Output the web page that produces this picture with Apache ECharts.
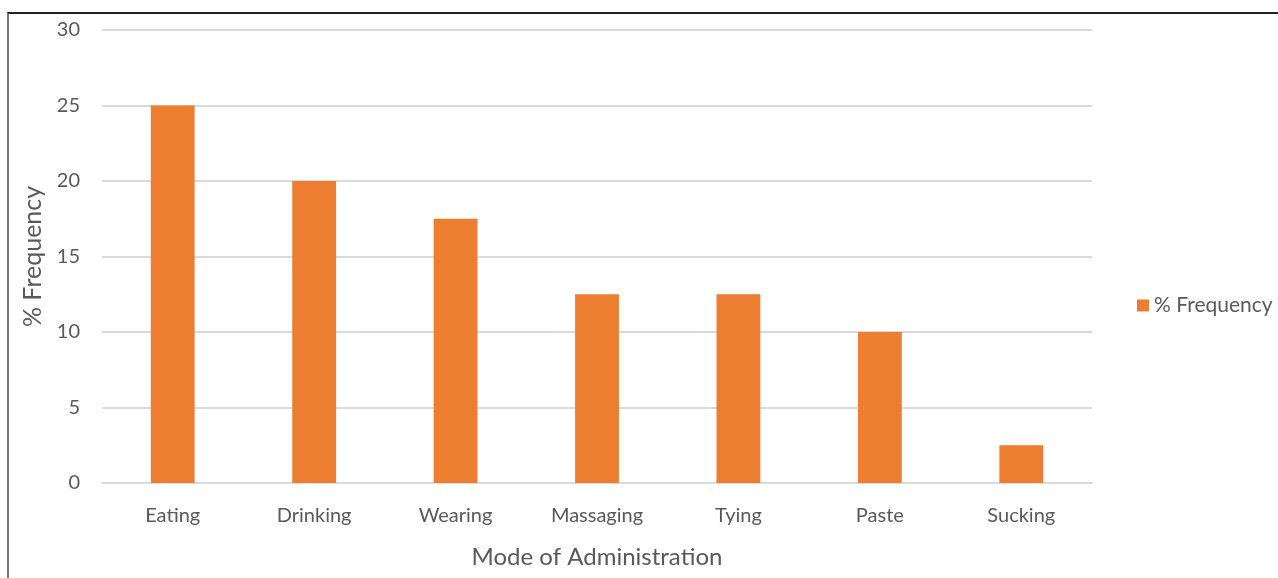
<!DOCTYPE html>
<html>
<head>
<meta charset="utf-8">
<style>
  html, body { margin: 0; padding: 0; background: #fff; }
  #frame { position: absolute; left: 7px; top: 12px; width: 1271px; height: 566px;
           border-top: 2px solid #222; border-left: 2px solid #777; box-sizing: border-box; }
  #chart { position: absolute; left: 0; top: 0; width: 1278px; height: 578px; }
</style>
<script src="https://cdn.jsdelivr.net/npm/echarts@6/dist/echarts.min.js"></script>
</head>
<body>
<div id="frame"></div>
<div id="chart"></div>
<script>
// Reported modes of administration and their share of mentions
const categories = ['Eating', 'Drinking', 'Wearing', 'Massaging', 'Tying', 'Paste', 'Sucking'];
const frequency = [25, 20, 17.5, 12.5, 12.5, 10, 2.5];
const seriesName = '% Frequency';
const xTitle = 'Mode of Administration';
const yTitle = '% Frequency';

const font = 'Lato, Open Sans, sans-serif';
const chart = echarts.init(document.getElementById('chart'), null, { renderer: 'canvas' });
chart.setOption({
  animation: false,
  backgroundColor: 'transparent',
  textStyle: { fontFamily: font },
  grid: { left: 102, right: 186, top: 30, bottom: 95, containLabel: false },
  legend: {
    data: [seriesName],
    orient: 'vertical',
    left: 1132, top: 290,
    itemWidth: 12, itemHeight: 12, itemGap: 4,
    icon: 'rect',
    textStyle: { color: '#595959', fontSize: 21, fontFamily: font }
  },
  xAxis: {
    type: 'category',
    data: categories,
    name: xTitle,
    nameLocation: 'middle',
    nameGap: 62,
    nameTextStyle: { color: '#595959', fontSize: 24, fontFamily: font },
    axisLine: { show: true, lineStyle: { color: '#d9d9d9', width: 2 } },
    axisTick: { show: false },
    axisLabel: { color: '#595959', fontSize: 20, margin: 23, fontFamily: font }
  },
  yAxis: {
    type: 'value',
    min: 0, max: 30, interval: 5,
    name: yTitle,
    nameLocation: 'middle',
    nameGap: 55,
    nameRotate: 90,
    nameTextStyle: { color: '#595959', fontSize: 25, fontFamily: font },
    axisLine: { show: false },
    axisTick: { show: false },
    axisLabel: { color: '#595959', fontSize: 20, margin: 22, fontFamily: font },
    splitLine: { lineStyle: { color: '#d9d9d9', width: 2 } }
  },
  series: [{
    name: seriesName,
    type: 'bar',
    data: frequency,
    barWidth: '31%',
    itemStyle: { color: '#ED7D31' }
  }]
});
</script>
</body>
</html>
